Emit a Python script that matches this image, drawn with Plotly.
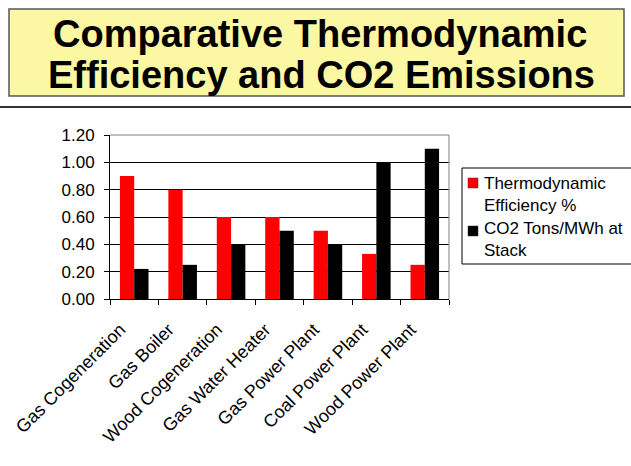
import plotly.graph_objects as go

categories = ["Gas Cogeneration", "Gas Boiler", "Wood Cogeneration", "Gas Water Heater",
              "Gas Power Plant", "Coal Power Plant", "Wood Power Plant"]
efficiency = [0.90, 0.80, 0.60, 0.60, 0.50, 0.33, 0.25]
co2 = [0.22, 0.25, 0.40, 0.50, 0.40, 1.00, 1.10]
series_names = ["Thermodynamic Efficiency %", "CO2 Tons/MWh at Stack"]
legend_lines = [["Thermodynamic", "Efficiency %"], ["CO2 Tons/MWh at", "Stack"]]
series_colors = ["#FF0000", "#000000"]
title_lines = ["Comparative Thermodynamic", "Efficiency and CO2 Emissions"]
y_ticks = [0.0, 0.2, 0.4, 0.6, 0.8, 1.0, 1.2]

FONT = "Liberation Sans, Arial, sans-serif"

# plot area in pixels
W, H = 631, 466
L, R, T, B = 110, 449, 135, 299
def px(x):
    return (x - L) / (R - L)
def py(y):
    return (B - y) / (B - T)

fig = go.Figure()
for vals, name, col in zip([efficiency, co2], series_names, series_colors):
    fig.add_trace(go.Bar(x=categories, y=vals, name=name, showlegend=False,
                         marker=dict(color=col, line=dict(width=0))))

shapes = [
    dict(type="rect", xref="paper", yref="paper", x0=px(9), x1=px(624), y0=py(96), y1=py(9),
         fillcolor="#FBF7A2", line=dict(color="#555555", width=1.5), layer="below"),
    dict(type="line", xref="paper", yref="paper", x0=px(0), x1=px(631), y0=py(107), y1=py(107),
         line=dict(color="#333333", width=2)),
    dict(type="line", xref="paper", yref="paper", x0=1, x1=1, y0=0, y1=1,
         line=dict(color="#808080", width=1)),
    dict(type="line", xref="paper", yref="paper", x0=0, x1=1, y0=1, y1=1,
         line=dict(color="#808080", width=1)),
    # legend box
    dict(type="rect", xref="paper", yref="paper", x0=px(462), x1=px(650), y0=py(264), y1=py(168),
         fillcolor="white", line=dict(color="black", width=1)),
]

annotations = [
    dict(text=title_lines[0], xref="paper", yref="paper", x=px(320), y=py(34),
         xanchor="center", yanchor="middle", showarrow=False,
         font=dict(family=FONT, size=38, color="black", weight="bold")),
    dict(text=title_lines[1], xref="paper", yref="paper", x=px(321), y=py(75),
         xanchor="center", yanchor="middle", showarrow=False,
         font=dict(family=FONT, size=38, color="black", weight="bold")),
]

# legend entries (marker squares + text lines)
marker_tops = [178, 226]
line_centers = [[183, 205], [228, 250]]
for i in range(2):
    shapes.append(dict(type="rect", xref="paper", yref="paper",
                       x0=px(468), x1=px(478), y0=py(marker_tops[i] + 10), y1=py(marker_tops[i]),
                       fillcolor=series_colors[i], line=dict(color="#333333", width=0.5)))
    for txt, yc in zip(legend_lines[i], line_centers[i]):
        annotations.append(dict(text=txt, xref="paper", yref="paper", x=px(482), y=py(yc),
                                xanchor="left", yanchor="middle", showarrow=False,
                                font=dict(family=FONT, size=17, color="black")))

fig.update_layout(
    width=W, height=H,
    margin=dict(l=L, r=W - R, t=T, b=H - B, autoexpand=False),
    paper_bgcolor="white", plot_bgcolor="white",
    barmode="group", bargap=0.41, bargroupgap=0,
    shapes=shapes, annotations=annotations,
    font=dict(family=FONT, color="black"),
    showlegend=False,
    xaxis=dict(showline=True, linecolor="black", linewidth=1, ticks="outside",
               tickson="boundaries", ticklen=5, tickcolor="black", tickangle=-45,
               tickfont=dict(family=FONT, size=18, color="black"), showgrid=False,
               ticklabelstandoff=12, ticklabelshift=-14),
    yaxis=dict(range=[0, 1.2], tickvals=y_ticks, tickformat=".2f", showline=True,
               linecolor="black", linewidth=1, ticks="outside", ticklen=5, tickcolor="black",
               showgrid=True, gridcolor="black", gridwidth=1, zeroline=False,
               tickfont=dict(family=FONT, size=17, color="black"), ticklabelstandoff=6),
)

fig.write_html("out.html", config={"displayModeBar": False},
               post_script="document.body.style.margin='0px';")
